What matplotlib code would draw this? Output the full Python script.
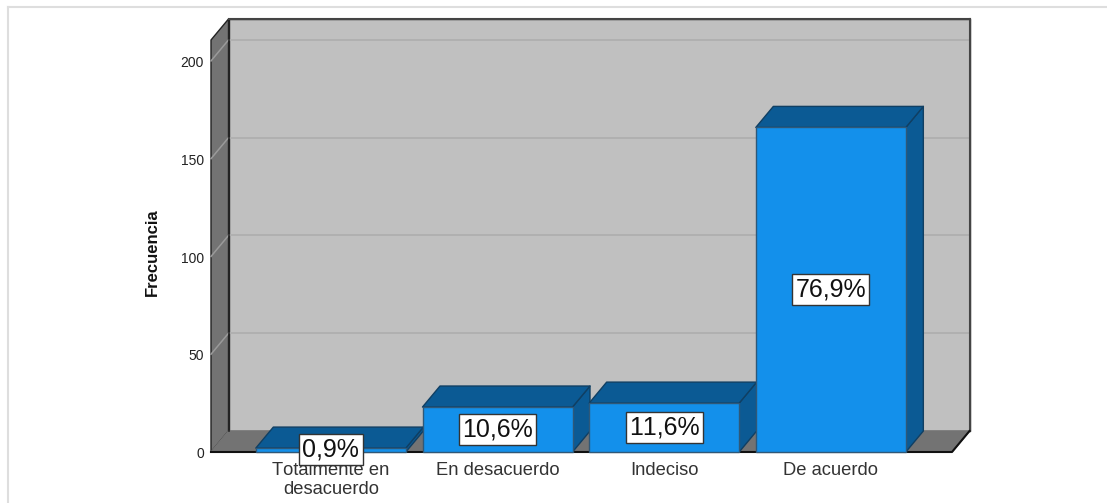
import numpy as np
import matplotlib.pyplot as plt
from matplotlib.patches import Polygon, Rectangle
from matplotlib.transforms import ScaledTranslation

plt.rcParams['font.family'] = ['Liberation Sans', 'DejaVu Sans']
plt.rcParams['text.kerning_factor'] = 6

categories = ['Totalmente en\ndesacuerdo', 'En desacuerdo', 'Indeciso', 'De acuerdo']
counts = [2, 23, 25, 166]
percent_labels = ['0,9%', '10,6%', '11,6%', '76,9%']
y_ticks = [0, 50, 100, 150, 200]

W, H = 1107, 503
fig = plt.figure(figsize=(W / 100, H / 100), dpi=100)
fig.patch.set_facecolor('white')

# outer chart border, only top and left are visible
fig.add_artist(plt.Line2D([7.5 / W, 1], [1 - 7 / H, 1 - 7 / H], color='#dedede', lw=1.5))
fig.add_artist(plt.Line2D([7.5 / W, 7.5 / W], [0, 1 - 7 / H], color='#dedede', lw=1.5))

ax = fig.add_axes([211 / W, 1 - 452 / H, 741 / W, 412 / H])
ax.set_xlim(-0.719, 3.727)
ax.set_ylim(0, 210.7)
ax.patch.set_visible(False)
for s in ax.spines.values():
    s.set_visible(False)

# depth of the fake 3D box, in data units
dx = 0.105
dy = 10.74
x0, x1 = ax.get_xlim()
y0, y1 = ax.get_ylim()


def poly(pts, fc, ec='#222222', lw=1.0, z=1):
    ax.add_patch(Polygon(pts, closed=True, facecolor=fc, edgecolor=ec, linewidth=lw,
                         zorder=z, clip_on=False, joinstyle='round'))


# back wall, side wall and floor
poly([(x0 + dx, y0 + dy), (x1 + dx, y0 + dy), (x1 + dx, y1 + dy), (x0 + dx, y1 + dy)], '#c0c0c0', z=1)
poly([(x0, y0), (x0 + dx, y0 + dy), (x0 + dx, y1 + dy), (x0, y1)], '#737373', z=2)
poly([(x0, y0), (x1, y0), (x1 + dx, y0 + dy), (x0 + dx, y0 + dy)], '#737373', ec='#737373', z=2)

# gridlines wrap from side wall onto back wall
for t in y_ticks[1:]:
    ax.plot([x0, x0 + dx], [t, t + dy], color='#9a9a9a', lw=1.1, zorder=3, clip_on=False)
    ax.plot([x0 + dx, x1 + dx], [t + dy, t + dy], color='#afafaf', lw=1.3, zorder=3, clip_on=False)

# redraw wall edges over the gridlines
ax.plot([x0 + dx, x0 + dx], [y0 + dy, y1 + dy], color='#222222', lw=1.2, zorder=3, clip_on=False)
ax.plot([x1 + dx, x1 + dx], [y0 + dy, y1 + dy], color='#444444', lw=1.5, zorder=3, clip_on=False)
ax.plot([x0 + dx, x1 + dx], [y1 + dy, y1 + dy], color='#444444', lw=1.5, zorder=3, clip_on=False)
ax.plot([x0, x1, x1 + dx], [y0, y0, y0 + dy], color='#111111', lw=1.5, zorder=3, clip_on=False)

bar_w = 0.9
front = '#1390eb'
dark = '#0b5a94'
edge = '#103f63'
for i, c in enumerate(counts):
    l = i - bar_w / 2
    r = i + bar_w / 2
    poly([(r, 0), (r + dx, dy), (r + dx, c + dy), (r, c)], dark, ec=edge, z=4 + i)
    poly([(l, c), (r, c), (r + dx, c + dy), (l + dx, c + dy)], dark, ec=edge, z=4 + i)
    ax.add_patch(Rectangle((l, 0), bar_w, c, facecolor=front, edgecolor='#2f5878', linewidth=1.0,
                           zorder=5 + i, clip_on=False))

for i, (c, lab) in enumerate(zip(counts, percent_labels)):
    # tiny bars still get their box centred just above the baseline
    yc = c / 2 if c > 5 else 1.4
    ax.text(i, yc, lab, ha='center', va='center', fontsize=18, color='#111111', zorder=20,
            clip_on=False,
            bbox=dict(boxstyle='square,pad=0.13', facecolor='white', edgecolor='#333333', linewidth=1.0))

ax.set_yticks(y_ticks)
ax.set_yticklabels([str(t) for t in y_ticks], fontsize=10, color='#222222')
ax.tick_params(axis='y', length=0, pad=5)
# nudge the value labels down a little
shift = ScaledTranslation(0, -0.6 / 100, fig.dpi_scale_trans)
for lab in ax.get_yticklabels():
    lab.set_transform(lab.get_transform() + shift)
ax.set_xticks(range(len(categories)))
ax.set_xticklabels(categories, fontsize=13.2, color='#333333', linespacing=1.2)
ax.tick_params(axis='x', length=0, pad=7)

fig.text(152 / W, 1 - 252 / H, 'Frecuencia', rotation=90, ha='center', va='center',
         fontsize=12, fontweight='bold', color='#111111')

fig.savefig('out.png', dpi=100)
